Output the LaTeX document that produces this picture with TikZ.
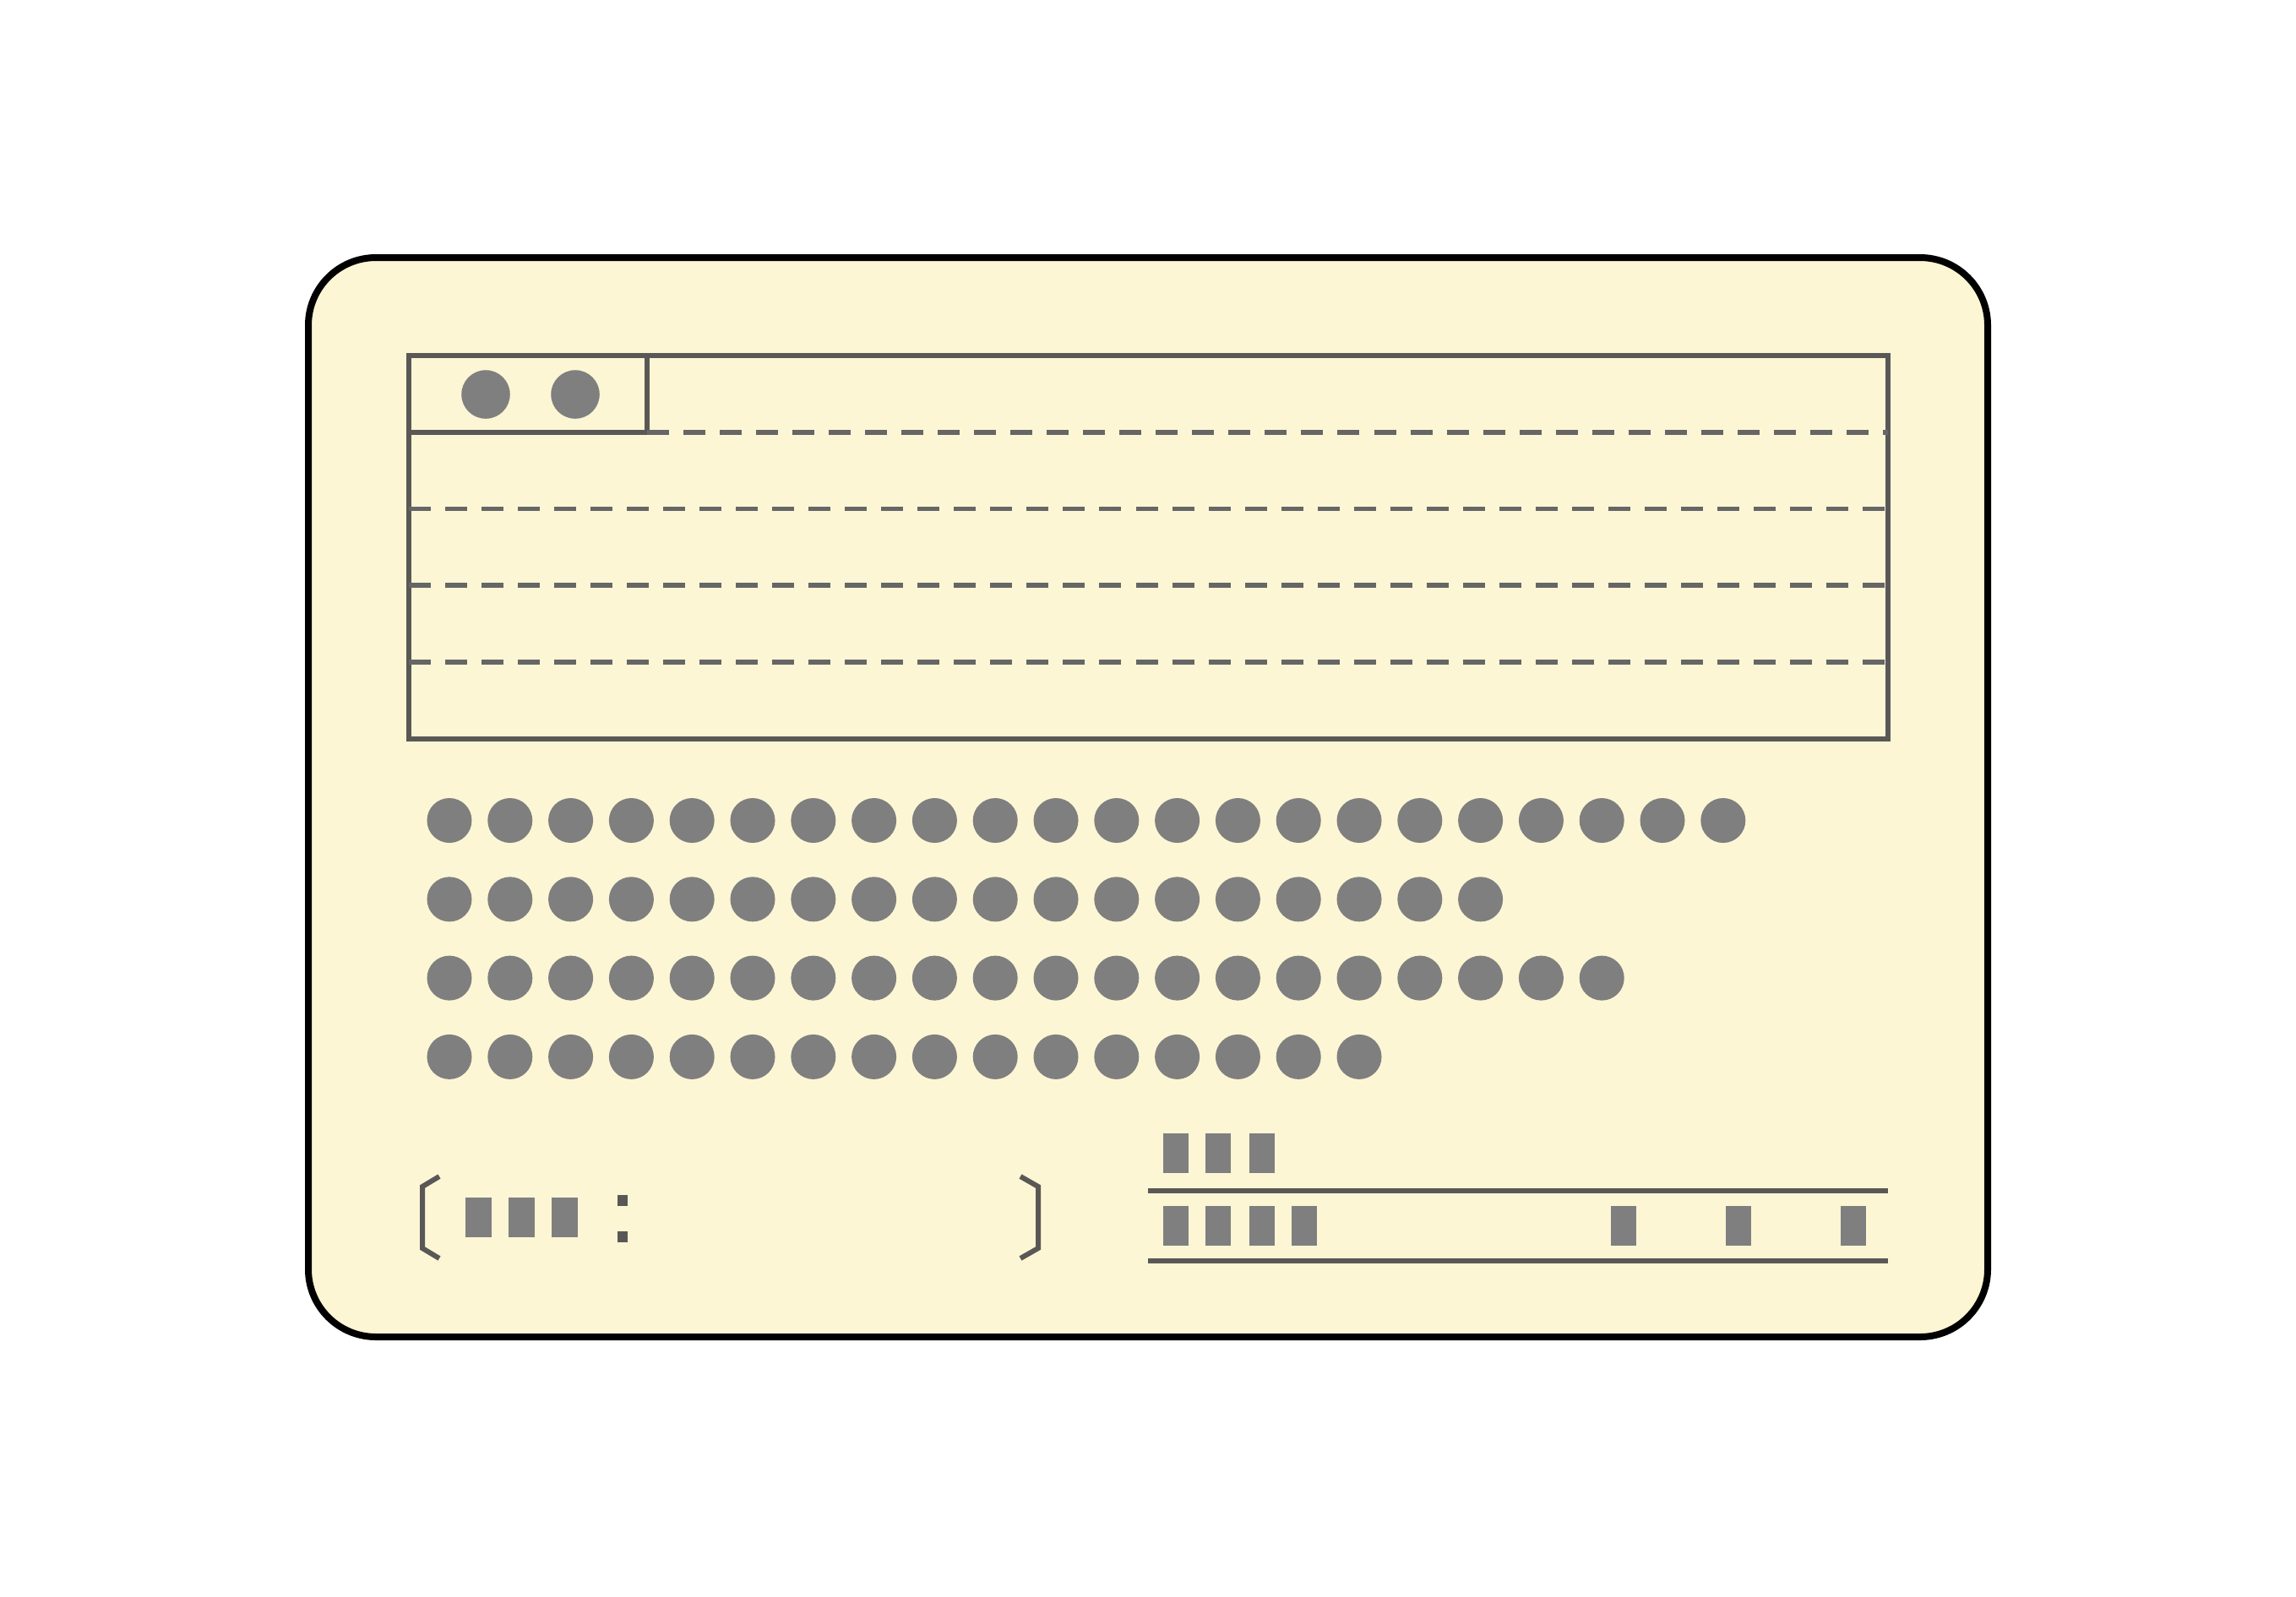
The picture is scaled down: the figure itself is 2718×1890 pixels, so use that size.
\documentclass[tikz,border=0pt]{standalone}
\usetikzlibrary{positioning}
\definecolor{cardfill}{HTML}{FCF6D4}
\definecolor{boxline}{HTML}{5A5856}
\definecolor{dashline}{HTML}{666666}
\definecolor{dotgrey}{HTML}{7F7F7F}

\begin{document}
\begin{tikzpicture}[x=0.01cm, y=-0.01cm,
    cardedge/.style={draw=black, line width=0.08cm, fill=cardfill, rounded corners=0.8cm},
    frame/.style={draw=boxline, line width=0.06cm},
    rowline/.style={draw=dashline, line width=0.057cm, dash pattern=on 0.26cm off 0.17cm},
    dot/.style={circle, fill=dotgrey, inner sep=0pt, minimum size=0.53cm},
    bigdot/.style={dot, minimum size=0.575cm},
    bar/.style={rectangle, fill=dotgrey, inner sep=0pt, minimum width=0.30cm, minimum height=0.47cm},
    pip/.style={rectangle, fill=boxline, inner sep=0pt, minimum width=0.12cm, minimum height=0.13cm}]
                    \useasboundingbox (0, 0) rectangle (2718, 1890);

                    % card
                    \draw[cardedge] (365, 305) rectangle (2353, 1583);

                    % framed area
                    \coordinate (tl) at (484, 421);
                    \coordinate (br) at (2235, 875);
                    \coordinate (tab) at (766, 421);
                    \draw[frame] (tl) rectangle (br);
                    \draw[frame] (tab) -- (766, 512) -- (484, 512);
                    \draw[rowline] (766, 512) -- (2235, 512);
                    \draw[rowline] (484, 602.5) -- (2235, 602.5);
                    \draw[rowline] (484, 693) -- (2235, 693);
                    \draw[rowline] (484, 784) -- (2235, 784);

                    \node[bigdot] (t1) at (575, 467) {};
                    \node[bigdot] (t2) at (681, 467) {};

                    % rows of dots
                    \foreach \n [count=\r] in {22, 18, 20, 16}
                        \foreach \i in {1, ..., \n}
                            \node[dot] (d\r-\i) at ({532 + 71.8*(\i-1)}, {971.5 + 93.3*(\r-1)}) {};

                    % bracketed field
                    \draw[frame] (520, 1393) -- (500, 1405) -- (500, 1478) -- (520, 1490);
                    \draw[frame] (1208, 1393) -- (1229, 1405) -- (1229, 1478) -- (1208, 1490);
                    \node[bar, minimum width=0.31cm] (b1) at (566.5, 1441.5) {};
                    \node[bar, minimum width=0.31cm] (b2) at (617.5, 1441.5) {};
                    \node[bar, minimum width=0.31cm] (b3) at (668, 1441.5) {};
                    \node[pip] (c1) at (737, 1421.5) {};
                    \node[pip] (c2) at (737, 1464) {};

                    % lined field
                    \coordinate (l1a) at (1359, 1410);
                    \coordinate (l1b) at (2235, 1410);
                    \coordinate (l2a) at (1359, 1493);
                    \coordinate (l2b) at (2235, 1493);
                    \draw[frame] (l1a) -- (l1b);
                    \draw[frame] (l2a) -- (l2b);
                    \node[bar] (u1) at (1392, 1365.5) {};
                    \node[bar] (u2) at (1442, 1365.5) {};
                    \node[bar] (u3) at (1493.5, 1365.5) {};
                    \node[bar] (v1) at (1392, 1451.5) {};
                    \node[bar] (v2) at (1442, 1451.5) {};
                    \node[bar] (v3) at (1493.5, 1451.5) {};
                    \node[bar] (v4) at (1544, 1451.5) {};
                    \node[bar] (v5) at (1921.5, 1451.5) {};
                    \node[bar] (v6) at (2058, 1451.5) {};
                    \node[bar] (v7) at (2194, 1451.5) {};
                \end{tikzpicture}
\end{document}
